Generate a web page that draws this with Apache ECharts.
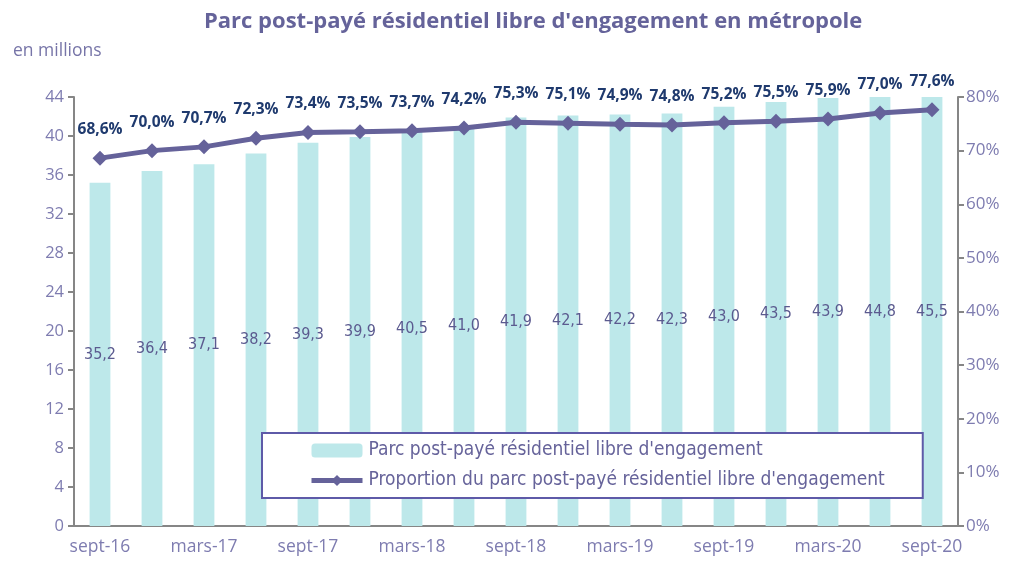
<!DOCTYPE html>
<html>
<head>
<meta charset="utf-8">
<script src="https://cdn.jsdelivr.net/npm/echarts@6/dist/echarts.min.js"></script>
<style>
  html, body { margin: 0; padding: 0; background: #fff; }
  #chart { width: 1019px; height: 566px; }
</style>
</head>
<body>
<div id="chart"></div>
<script>
const months = ['sept-16', 'déc-16', 'mars-17', 'juin-17', 'sept-17', 'déc-17', 'mars-18', 'juin-18',
  'sept-18', 'déc-18', 'mars-19', 'juin-19', 'sept-19', 'déc-19', 'mars-20', 'juin-20', 'sept-20'];
// parc en millions
const parc = [35.2, 36.4, 37.1, 38.2, 39.3, 39.9, 40.5, 41.0, 41.9, 42.1, 42.2, 42.3, 43.0, 43.5, 43.9, 44.8, 45.5];
// proportion en %
const proportion = [68.6, 70.0, 70.7, 72.3, 73.4, 73.5, 73.7, 74.2, 75.3, 75.1, 74.9, 74.8, 75.2, 75.5, 75.9, 77.0, 77.6];

const font = "'Liberation Sans Narrow', 'DejaVu Sans Condensed', 'Liberation Sans', sans-serif";
const axisColor = '#7e7cb0';
const fr = (v, d) => v.toFixed(d).replace('.', ',');

const myChart = echarts.init(document.getElementById('chart'));

const option = {
  backgroundColor: '#fff',
  title: [
    {
      text: "Parc post-payé résidentiel libre d'engagement en métropole",
      left: 199,
      top: 6,
      textStyle: { color: '#65639a', fontSize: 22, fontWeight: 'bold', fontFamily: "'Open Sans', sans-serif" }
    },
    {
      text: 'en millions',
      left: 8,
      top: 37,
      textStyle: { color: '#7775a8', fontSize: 17.5, fontWeight: 'normal', fontFamily: "'Open Sans', sans-serif" }
    }
  ],
  legend: {
    orient: 'vertical',
    left: 262,
    top: 433,
    padding: [8, 38, 8, 47],
    itemGap: 11,
    itemWidth: 51,
    itemHeight: 14,
    borderColor: '#5e5aa8',
    borderWidth: 2,
    backgroundColor: '#fff',
    textStyle: { color: '#66639a', fontSize: 19, fontFamily: font, padding: [0, 0, 0, 1] },
    data: [
      { name: "Parc post-payé résidentiel libre d'engagement" },
      { name: "Proportion du parc post-payé résidentiel libre d'engagement", lineStyle: { width: 5 } }
    ]
  },
  grid: {
    left: 74,
    right: 61,
    top: 97,
    bottom: 40
  },
  xAxis: [
    {
      type: 'category',
      data: months,
      axisLine: { lineStyle: { color: '#868686', width: 2 } },
      axisTick: { interval: 1, length: 6, lineStyle: { color: '#868686', width: 2 } },
      axisLabel: { interval: 1, color: axisColor, fontSize: 17.5, margin: 12, fontFamily: "'Open Sans', sans-serif" }
    }
  ],
  yAxis: [
    {
      type: 'value',
      min: 0,
      max: 44,
      interval: 4,
      splitLine: { show: false },
      axisLine: { show: true, lineStyle: { color: '#868686', width: 2 } },
      axisTick: { show: true, length: 6, lineStyle: { color: '#868686', width: 2 } },
      axisLabel: { color: axisColor, fontSize: 16.5, margin: 10, fontFamily: "'Open Sans', sans-serif" }
    },
    {
      type: 'value',
      min: 0,
      max: 80,
      interval: 10,
      splitLine: { show: false },
      axisLine: { show: true, lineStyle: { color: '#868686', width: 2 } },
      axisTick: { show: true, length: 6, lineStyle: { color: '#868686', width: 2 } },
      axisLabel: { color: axisColor, fontSize: 17, margin: 8, formatter: '{value}%', fontFamily: "'Open Sans', sans-serif" }
    }
  ],
  series: [
    {
      name: "Parc post-payé résidentiel libre d'engagement",
      type: 'bar',
      data: parc,
      barWidth: '40%',
      itemStyle: { color: '#bde8ea' },
      label: {
        show: true,
        position: 'inside',
        color: '#5b5a8f',
        fontSize: 16,
        fontFamily: font,
        formatter: p => fr(p.value, 1)
      }
    },
    {
      name: "Proportion du parc post-payé résidentiel libre d'engagement",
      type: 'line',
      yAxisIndex: 1,
      data: proportion,
      symbol: 'diamond',
      symbolSize: 15,
      lineStyle: { color: '#65629a', width: 5 },
      itemStyle: { color: '#65629a' },
      label: {
        show: true,
        position: 'top',
        distance: 13,
        color: '#1f3a6e',
        fontSize: 15.5,
        fontWeight: 'bold',
        fontFamily: "'Open Sans', sans-serif",
        formatter: p => fr(p.value, 1) + '%'
      }
    }
  ]
};
option && myChart.setOption(option);
</script>
</body>
</html>
